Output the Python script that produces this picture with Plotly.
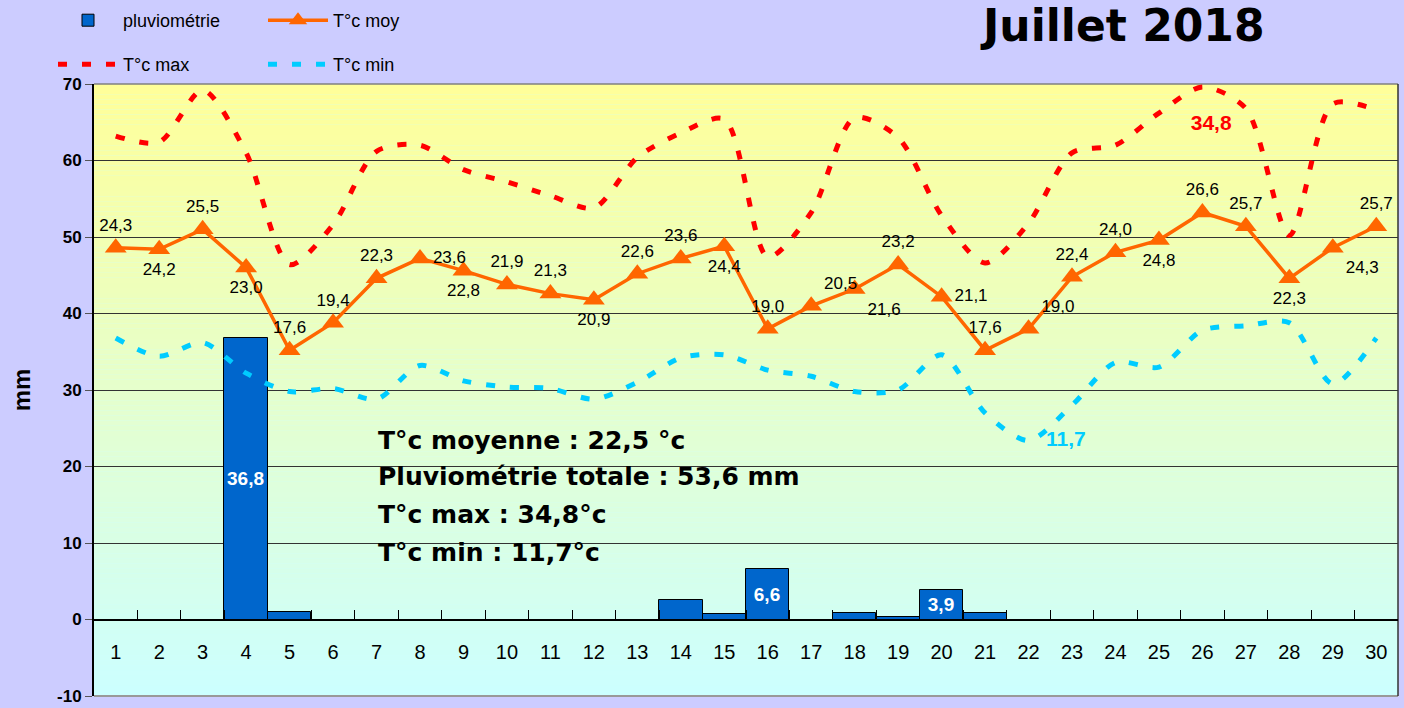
import plotly.graph_objects as go

# ---------------- data ----------------
days = [str(d) for d in range(1, 31)]
rain_mm = [0, 0, 0, 36.8, 1.0, 0, 0, 0, 0, 0, 0, 0, 0, 2.6, 0.7, 6.6, 0, 0.9, 0.3, 3.9,
           0.8, 0, 0, 0, 0, 0, 0, 0, 0, 0]
rain_labels = ["", "", "", "36,8", "", "", "", "", "", "", "", "", "", "", "", "6,6", "", "", "",
               "3,9", "", "", "", "", "", "", "", "", "", ""]
t_moy = [24.3, 24.2, 25.5, 23.0, 17.6, 19.4, 22.3, 23.6, 22.8, 21.9, 21.3, 20.9, 22.6, 23.6, 24.4,
         19.0, 20.5, 21.6, 23.2, 21.1, 17.6, 19.0, 22.4, 24.0, 24.8, 26.6, 25.7, 22.3, 24.3, 25.7]
t_max = [31.6, 31.2, 34.6, 30.5, 23.2, 25.8, 30.6, 31.0, 29.4, 28.6, 27.7, 26.9, 30.2, 31.8, 32.7,
         23.7, 26.6, 32.8, 31.5, 26.4, 23.3, 25.9, 30.5, 31.0, 33.1, 34.8, 33.4, 25.1, 33.7, 33.3]
t_min = [18.4, 17.2, 18.1, 16.1, 14.9, 15.1, 14.4, 16.6, 15.6, 15.2, 15.1, 14.4, 15.5, 17.1, 17.3,
         16.3, 15.9, 14.9, 15.0, 17.3, 13.5, 11.7, 14.0, 16.8, 16.5, 18.9, 19.2, 19.4, 15.4, 18.4]
NB = "\u00a0"
t_max_labels = ["" if i != 25 else "<br>" + NB * 3 + "34,8" for i in range(30)]
t_min_labels = ["" if i != 21 else NB * 3 + "11,7" for i in range(30)]
y_ticks = [-10, 0, 10, 20, 30, 40, 50, 60, 70]
y_tick_labels = ["-10", "0", "10", "20", "30", "40", "50", "60", "70"]
summary_lines = ["T°c moyenne : 22,5 °c", "Pluviométrie totale : 53,6 mm",
                 "T°c max : 34,8°c", "T°c min : 11,7°c"]
title_text = "Juillet 2018"

def fmt(v):
    return f"{v:.1f}".replace(".", ",")

moy_pos = ["top center", "bottom center", "top center", "bottom center", "top center",
           "top center", "top center", "middle right", "bottom center", "top center",
           "top center", "bottom center", "top center", "top center", "bottom center",
           "top center", "top right", "bottom right", "top center", "middle right",
           "top center", "top right", "top center", "top center", "bottom center",
           "top center", "top center", "bottom center", "bottom right", "top center"]

FONT = "Liberation Sans, Arial, sans-serif"
HEAVY = "DejaVu Sans, Liberation Sans, sans-serif"

fig = go.Figure()

fig.add_trace(go.Bar(
    x=days, y=rain_mm, name="pluviométrie", width=1.0,
    marker=dict(color="#0066CC", line=dict(color="black", width=1)),
    text=rain_labels, textposition="inside", insidetextanchor="middle",
    textfont=dict(color="white", size=19, family=FONT, weight="bold"),
    textangle=0, cliponaxis=False, legend="legend", yaxis="y",
))

fig.add_trace(go.Scatter(
    x=days, y=t_moy, name="T°c moy", mode="lines+markers+text", yaxis="y2",
    line=dict(color="#FF6600", width=3.5),
    marker=dict(symbol="triangle-up", size=19, color="#FF6600"),
    text=[fmt(v) for v in t_moy], textposition=moy_pos,
    textfont=dict(color="black", size=17, family=FONT),
    legend="legend", cliponaxis=False,
))

fig.add_trace(go.Scatter(
    x=days, y=t_max, name="T°c max", mode="lines+text", yaxis="y2",
    line=dict(color="#FF0000", width=5, dash="9px,15px", shape="spline", smoothing=0.8),
    text=t_max_labels, textposition="bottom center",
    textfont=dict(color="#FF0000", size=21, family=FONT, weight="bold"),
    legend="legend2", cliponaxis=False,
))

fig.add_trace(go.Scatter(
    x=days, y=t_min, name="T°c min", mode="lines+text", yaxis="y2",
    line=dict(color="#00CCFF", width=5, dash="9px,15px", shape="spline", smoothing=0.8),
    text=t_min_labels, textposition="middle right",
    textfont=dict(color="#00CCFF", size=21, family=FONT, weight="bold"),
    legend="legend2", cliponaxis=False,
))

# background gradient (yellow top -> light cyan bottom)
shapes = []
N = 120
top = (255, 255, 153)
bot = (204, 255, 255)
for i in range(N):
    f = i / (N - 1)
    c = tuple(round(top[k] + (bot[k] - top[k]) * f) for k in range(3))
    shapes.append(dict(type="rect", xref="paper", yref="paper",
                       x0=0, x1=1, y0=1 - (i + 1) / N, y1=1 - i / N,
                       fillcolor=f"rgb{c}", line=dict(width=0), layer="below"))
# frame
shapes.append(dict(type="line", xref="paper", yref="paper", x0=0, x1=1, y0=1, y1=1,
                   line=dict(color="#808080", width=1.5), layer="between"))
shapes.append(dict(type="line", xref="paper", yref="paper", x0=0, x1=1, y0=0, y1=0,
                   line=dict(color="#999999", width=2), layer="between"))
shapes.append(dict(type="line", xref="paper", yref="paper", x0=1, x1=1, y0=0, y1=1,
                   line=dict(color="#333333", width=1.5), layer="between"))

annotations = []
ys = [0.418, 0.358, 0.296, 0.234]
for s, yy in zip(summary_lines, ys):
    annotations.append(dict(text=s, xref="paper", yref="paper", x=0.2165, y=yy,
                            xanchor="left", yanchor="middle", showarrow=False,
                            font=dict(size=25, color="black", family=HEAVY, weight="bold")))
annotations.append(dict(text=title_text, xref="paper", yref="paper", x=0.789, y=(696 - 26) / 612,
                        xanchor="center", yanchor="middle", showarrow=False,
                        font=dict(size=44, color="black", family=HEAVY, weight="bold")))

fig.update_layout(
    width=1404, height=708,
    margin=dict(l=94, r=6, t=84, b=12, autoexpand=False),
    paper_bgcolor="#CCCCFF", plot_bgcolor="#CCFFFF",
    font=dict(family=FONT, color="black"),
    bargap=0,
    shapes=shapes, annotations=annotations,
    xaxis=dict(type="category", categoryorder="array", categoryarray=days,
               range=[-0.5, 29.5], anchor="free", position=0.125,
               showline=True, linecolor="black", linewidth=1.5,
               ticks="inside", tickson="boundaries", ticklen=9, tickcolor="black",
               tickfont=dict(size=20, family=FONT), ticklabelstandoff=15,
               showgrid=False, zeroline=False),
    yaxis=dict(range=[-10, 70], tickvals=y_ticks, ticktext=y_tick_labels,
               showgrid=True, gridcolor="#333333", gridwidth=1,
               showline=True, linecolor="black", linewidth=2, ticks="outside", ticklen=7,
               tickcolor="#555555", tickfont=dict(size=17, family=FONT, weight="bold"),
               zeroline=False,
               title=dict(text="mm", font=dict(size=24, family=FONT, weight="bold"), standoff=20)),
    yaxis2=dict(range=[-5, 35], overlaying="y", side="right", visible=False),
    legend=dict(orientation="h", xref="container", yref="container", x=53 / 1404, y=1 - 2 / 708,
                xanchor="left", yanchor="top", entrywidth=135, itemwidth=60,
                bgcolor="rgba(0,0,0,0)", font=dict(size=18, family=FONT), traceorder="normal"),
    legend2=dict(orientation="h", xref="container", yref="container", x=53 / 1404, y=1 - 46 / 708,
                 xanchor="left", yanchor="top", entrywidth=135, itemwidth=60,
                 bgcolor="rgba(0,0,0,0)", font=dict(size=18, family=FONT), traceorder="normal"),
    showlegend=True,
)

fig.write_html("out.html", config={"displayModeBar": False},
               post_script="document.body.style.margin='0';")
